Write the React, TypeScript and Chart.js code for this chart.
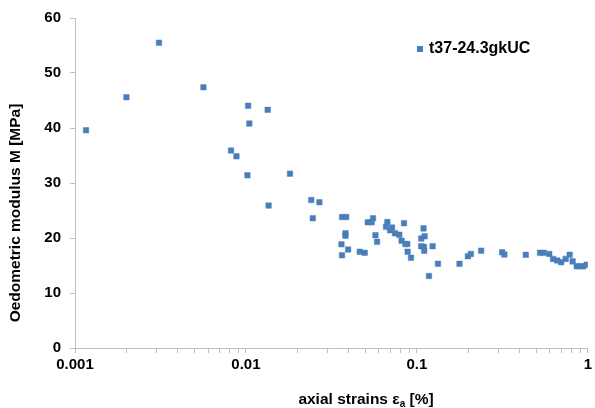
import React, { useEffect, useRef } from "react";
import { Chart, registerables } from "chart.js";

Chart.register(...registerables);

const seriesLabel = "t37-24.3gkUC";
const yAxisTitle = "Oedometric modulus M [MPa]";
const xTitleMain = "axial strains \u03B5";
const xTitleSub = "a";
const xTitleEnd = " [%]";

const strainPct = [
  0.00116, 0.002, 0.0031, 0.00564, 0.0103, 0.0134, 0.01047, 0.00818, 0.0088, 0.0102,
  0.0181, 0.01357, 0.0241, 0.0269, 0.0246, 0.0365, 0.0386, 0.0382, 0.0382, 0.0362,
  0.0396, 0.0365, 0.0463, 0.0495, 0.0516, 0.0544, 0.0554, 0.0572, 0.0585, 0.0672,
  0.066, 0.0716, 0.0697, 0.0745, 0.0789, 0.0841, 0.0814, 0.0856, 0.0879, 0.0883,
  0.0924, 0.1094, 0.106, 0.111, 0.106, 0.1099, 0.1104, 0.1236, 0.1328, 0.1177,
  0.1775, 0.1987, 0.207, 0.2377, 0.3153, 0.325, 0.4335, 0.525, 0.552, 0.595,
  0.626, 0.663, 0.699, 0.742, 0.783, 0.815, 0.861, 0.899, 0.94, 0.984,
];

const modulusMPa = [
  39.6, 45.6, 55.5, 47.4, 44.05, 43.3, 40.8, 35.9, 34.85, 31.4,
  31.7, 25.9, 26.9, 26.5, 23.6, 23.8, 23.8, 20.85, 20.4, 18.85,
  17.9, 16.85, 17.5, 17.3, 22.85, 22.85, 23.6, 20.5, 19.3, 22.9,
  22.05, 21.9, 21.4, 20.85, 20.6, 22.7, 19.5, 18.9, 18.9, 17.5,
  16.4, 21.75, 19.9, 20.3, 18.5, 18.4, 17.7, 18.5, 15.3, 13.1,
  15.3, 16.7, 17.1, 17.7, 17.4, 17.0, 16.95, 17.3, 17.3, 17.1,
  16.2, 15.9, 15.6, 16.2, 16.95, 15.75, 14.85, 14.85, 14.85, 15.15,
];

const xDecades = [0.001, 0.01, 0.1, 1];
const xDecadeLabels = ["0.001", "0.01", "0.1", "1"];
const yTickValues = [0, 10, 20, 30, 40, 50, 60];

const FONT = "'Liberation Sans', Arial, sans-serif";
const MARKER = "#4a7ebb";

export default function App() {
  const ref = useRef<HTMLCanvasElement | null>(null);

  useEffect(() => {
    document.body.style.margin = "0";
    const canvas = ref.current;
    if (!canvas) return;

    const points = strainPct.map((x, i) => ({ x, y: modulusMPa[i] }));

    const overlay = {
      id: "overlay",
      afterDraw(chart: any) {
        const ctx = chart.ctx;
        ctx.save();
        // y axis title
        ctx.fillStyle = "#000";
        ctx.font = `bold 15.5px ${FONT}`;
        ctx.textAlign = "center";
        ctx.textBaseline = "middle";
        ctx.translate(16, 213);
        ctx.rotate(-Math.PI / 2);
        ctx.fillText(yAxisTitle, 0, 0);
        ctx.setTransform(1, 0, 0, 1, 0, 0);

        // x axis title with subscript
        const big = `bold 15.5px ${FONT}`;
        const small = `bold 10px ${FONT}`;
        ctx.textAlign = "left";
        ctx.textBaseline = "alphabetic";
        ctx.font = big;
        const w1 = ctx.measureText(xTitleMain).width;
        const w3 = ctx.measureText(xTitleEnd).width;
        ctx.font = small;
        const w2 = ctx.measureText(xTitleSub).width;
        const total = w1 + w2 + w3;
        const cx = 366;
        const base = 404;
        let x0 = cx - total / 2;
        ctx.font = big;
        ctx.fillText(xTitleMain, x0, base);
        ctx.font = small;
        ctx.fillText(xTitleSub, x0 + w1, base + 3);
        ctx.font = big;
        ctx.fillText(xTitleEnd, x0 + w1 + w2, base);

        // legend
        ctx.fillStyle = MARKER;
        ctx.fillRect(417, 46, 6, 6);
        ctx.fillStyle = "#000";
        ctx.font = `bold 16px ${FONT}`;
        ctx.textBaseline = "middle";
        ctx.fillText(seriesLabel, 429, 49);
        ctx.restore();
      },
    };

    const chart = new Chart(canvas, {
      type: "scatter",
      data: {
        datasets: [
          {
            label: seriesLabel,
            data: points,
            pointStyle: "rect",
            pointRadius: 3.9,
            pointHoverRadius: 3.9,
            backgroundColor: MARKER,
            borderColor: "rgba(74,126,187,0.45)",
            borderWidth: 1,
          },
        ],
      },
      options: {
        responsive: false,
        animation: false,
        layout: { padding: { top: 18, right: 6, left: 0, bottom: 0 } },
        plugins: {
          legend: { display: false },
          tooltip: { enabled: false },
          title: { display: false },
        },
        scales: {
          x: {
            type: "logarithmic",
            min: 0.001,
            max: 1,
            position: "bottom",
            afterBuildTicks: (scale: any) => {
              const ticks: any[] = [];
              xDecades.forEach((d, i) => {
                if (i === xDecades.length - 1) {
                  ticks.push({ value: d });
                  return;
                }
                for (let k = 1; k <= 9; k++) {
                  ticks.push({ value: Number((k * d).toPrecision(4)) });
                }
              });
              scale.ticks = ticks;
            },
            afterFit: (scale: any) => {
              scale.height = 60;
            },
            ticks: {
              autoSkip: false,
              maxRotation: 0,
              minRotation: 0,
              padding: 3,
              color: "#000",
              font: { family: FONT, size: 15, weight: "bold" },
              callback: (v: any) => {
                const idx = xDecades.findIndex((d) => Math.abs(Math.log10(d) - Math.log10(Number(v))) < 1e-6);
                return idx >= 0 ? xDecadeLabels[idx] : "";
              },
            },
            grid: {
              display: true,
              drawOnChartArea: false,
              drawTicks: true,
              tickLength: 5,
              color: "#bfbfbf",
            },
            border: { display: true, color: "#bfbfbf", width: 1 },
          },
          y: {
            type: "linear",
            min: 0,
            max: 60,
            afterBuildTicks: (scale: any) => {
              scale.ticks = yTickValues.map((v) => ({ value: v }));
            },
            afterFit: (scale: any) => {
              scale.width = 75;
            },
            ticks: {
              padding: 9,
              color: "#000",
              font: { family: FONT, size: 15, weight: "bold" },
            },
            grid: {
              display: true,
              drawOnChartArea: false,
              drawTicks: true,
              tickLength: 5,
              color: "#bfbfbf",
            },
            border: { display: true, color: "#bfbfbf", width: 1 },
          },
        },
      },
      plugins: [overlay],
    } as any);

    return () => {
      chart.destroy();
    };
  }, []);

  return (
    <div style={{ width: 595, height: 408, background: "#fff" }}>
      <canvas ref={ref} width={595} height={408} style={{ display: "block", width: 595, height: 408 }} />
    </div>
  );
}
